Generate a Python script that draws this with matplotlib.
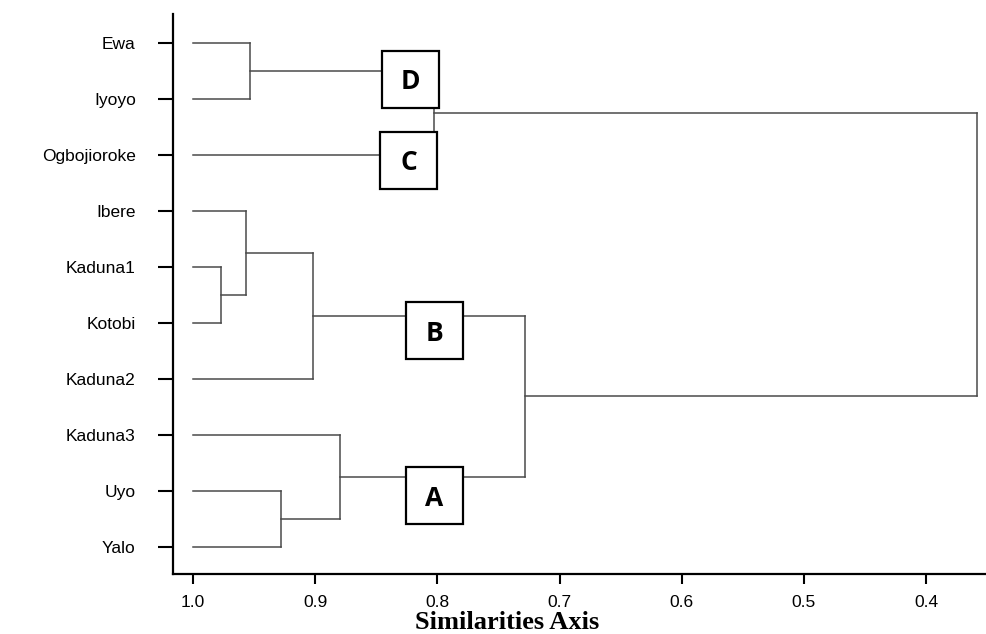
import matplotlib
matplotlib.use("Agg")
import matplotlib.pyplot as plt
from matplotlib.patches import Rectangle

# leaves, top to bottom
leaves = ['Ewa', 'Iyoyo', 'Ogbojioroke', 'Ibere', 'Kaduna1', 'Kotobi',
          'Kaduna2', 'Kaduna3', 'Uyo', 'Yalo']

# merges: (child a, child b, similarity); new cluster ids start at 10
merges = [
    (0, 1, 0.953),    # 10 Ewa + Iyoyo
    (4, 5, 0.977),    # 11 Kaduna1 + Kotobi
    (3, 11, 0.957),   # 12 Ibere + 11
    (12, 6, 0.902),   # 13 + Kaduna2
    (8, 9, 0.928),    # 14 Uyo + Yalo
    (7, 14, 0.880),   # 15 Kaduna3 + 14
    (13, 15, 0.728),  # 16 B + A
    (10, 2, 0.803),   # 17 D + C
    (17, 16, 0.358),  # 18 root
]

# cluster labels: (letter, similarity centre, leaf-row centre)
group_names = ['D', 'C', 'B', 'A']
group_sim = [0.822, 0.8236, 0.8024, 0.8024]
group_row = [0.648, 2.095, 5.139, 8.086]

xticks = [1.0, 0.9, 0.8, 0.7, 0.6, 0.5, 0.4]

fig = plt.figure(figsize=(9.87, 6.34), dpi=100)
ax = fig.add_axes([0.1753, 0.0946, 0.8247, 0.8833])

line_col = '#4a4a4a'
pos = {i: (1.0, float(i)) for i in range(len(leaves))}
for k, (a, b, s) in enumerate(merges):
    xa, ya = pos[a]
    xb, yb = pos[b]
    ax.plot([xa, s], [ya, ya], color=line_col, lw=1.1, zorder=2)
    ax.plot([xb, s], [yb, yb], color=line_col, lw=1.1, zorder=2)
    ax.plot([s, s], [ya, yb], color=line_col, lw=1.1, zorder=2)
    pos[len(leaves) + k] = (s, (ya + yb) / 2)

bw = 57 / 1222
bh = 57 / 56
for name, sx, ry in zip(group_names, group_sim, group_row):
    ax.add_patch(Rectangle((sx + bw / 2, ry - bh / 2), -bw, bh,
                           facecolor='white', edgecolor='black', lw=1.6, zorder=5))
    ax.text(sx, ry + 0.05, name, ha='center', va='center', fontsize=19,
            fontweight='bold', family='Open Sans', zorder=6)

ax.set_xlim(1.0164, 0.3502)
ax.set_ylim(9.4875, -0.5125)

ax.set_yticks(range(len(leaves)))
ax.set_yticklabels(leaves, family='Liberation Sans', fontsize=12.5)
ax.set_xticks(xticks)
ax.set_xticklabels([f'{t:.1f}' for t in xticks], family='Liberation Sans', fontsize=12.5)

ax.tick_params(axis='y', length=10.8, width=1.5, pad=16, direction='out')
ax.tick_params(axis='x', length=7.2, width=1.5, pad=8, direction='out')

for side in ['top', 'right']:
    ax.spines[side].set_visible(False)
for side in ['left', 'bottom']:
    ax.spines[side].set_linewidth(1.6)

ax.set_xlabel('Similarities Axis', family='Liberation Serif', fontweight='bold', fontsize=19)
ax.xaxis.set_label_coords(0.41, -0.066)

fig.savefig('out.png', dpi=100)
